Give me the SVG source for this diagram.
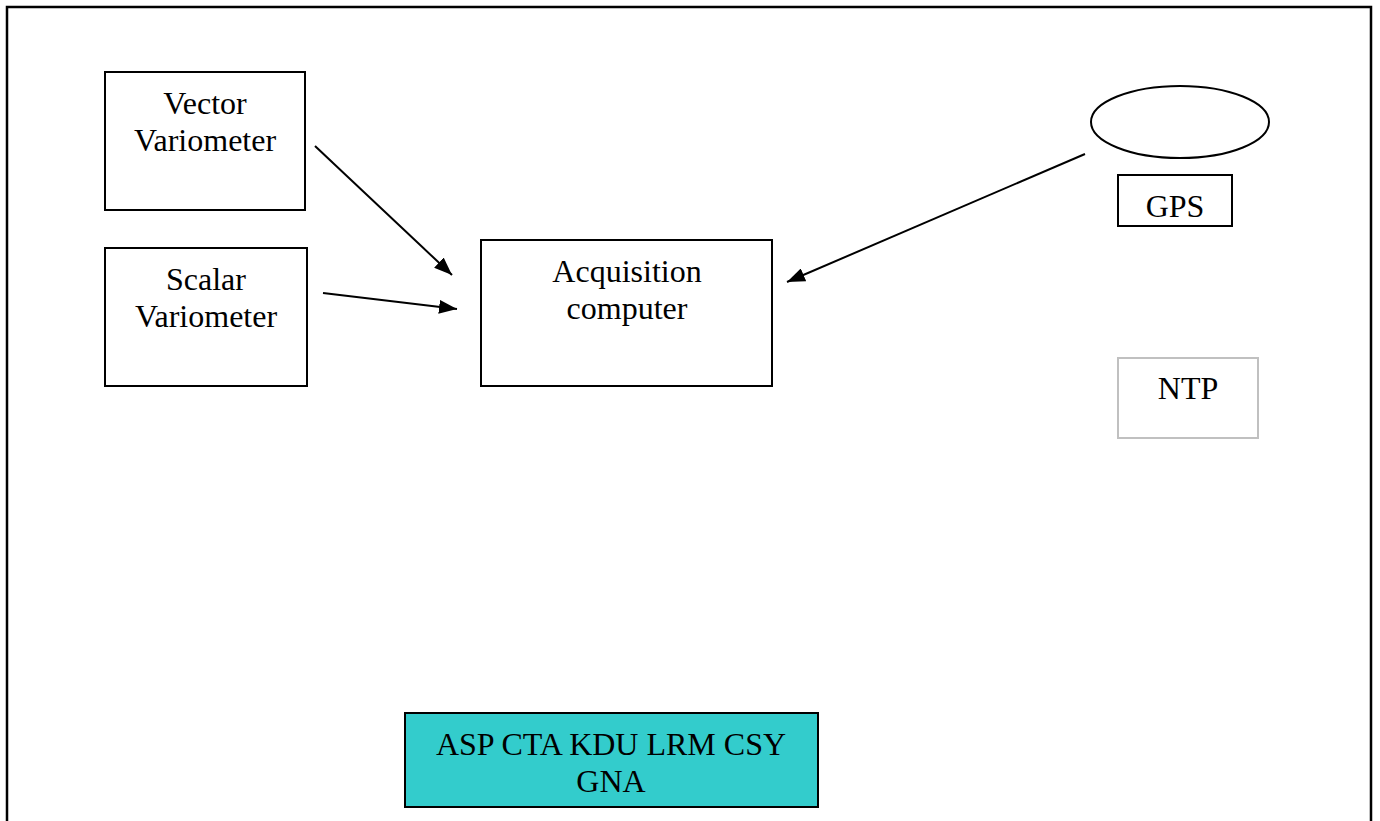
<svg xmlns="http://www.w3.org/2000/svg" width="1380" height="821" viewBox="0 0 1380 821">
<style>
.box{fill:#fff;stroke:#000;stroke-width:2}
.t{font-family:"Liberation Serif","Times New Roman",serif;font-size:32px;fill:#000;text-anchor:middle}
.c{stroke:#000;stroke-width:2;fill:none;marker-end:url(#ah)}
</style>
<defs>
<marker id="ah" viewBox="0 0 18 14" refX="18" refY="7" markerWidth="18" markerHeight="14" markerUnits="userSpaceOnUse" orient="auto">
<path d="M0,0 L18,7 L0,14 z" fill="#000"/>
</marker>
</defs>
<rect width="1380" height="821" fill="#fff"/>
<path d="M7,830 L7,7 L1371,7 L1371,830" fill="none" stroke="#000" stroke-width="2.5"/>
<g id="vector">
<rect class="box" x="105" y="72" width="200" height="138"/>
<text class="t" x="205" y="114">Vector</text>
<text class="t" x="205" y="151">Variometer</text>
</g>
<g id="scalar">
<rect class="box" x="105" y="248" width="202" height="138"/>
<text class="t" x="206" y="290">Scalar</text>
<text class="t" x="206" y="327">Variometer</text>
</g>
<g id="acq">
<rect class="box" x="481" y="240" width="291" height="146"/>
<text class="t" x="627" y="282">Acquisition</text>
<text class="t" x="627" y="319">computer</text>
</g>
<g id="gpsant">
<ellipse cx="1180" cy="122" rx="89" ry="36" fill="#fff" stroke="#000" stroke-width="2"/>
</g>
<g id="gps">
<rect class="box" x="1118" y="175" width="114" height="51"/>
<text class="t" x="1175" y="217">GPS</text>
</g>
<g id="ntp">
<rect x="1118" y="358" width="140" height="80" fill="#fff" stroke="#c0c0c0" stroke-width="2"/>
<text class="t" x="1188" y="399">NTP</text>
</g>
<g id="stations">
<rect x="405" y="713" width="413" height="94" fill="#33CCCC" stroke="#000" stroke-width="2"/>
<text class="t" x="611" y="755">ASP CTA KDU LRM CSY</text>
<text class="t" x="611" y="792">GNA</text>
</g>
<g id="connectors">
<path class="c" d="M315,146 L452,275"/>
<path class="c" d="M323,293 L457,309"/>
<path class="c" d="M1085,154 L787,282"/>
</g>
</svg>
